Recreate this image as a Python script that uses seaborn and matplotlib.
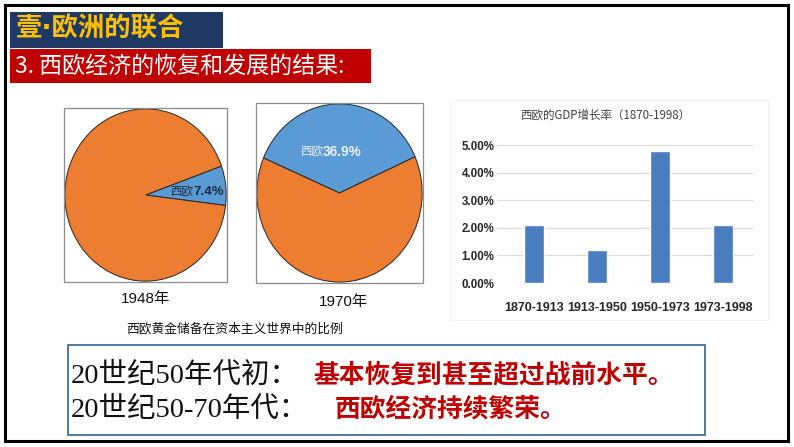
import matplotlib
matplotlib.use("Agg")
import matplotlib.pyplot as plt
import seaborn as sns
import pandas as pd
from matplotlib.patches import Rectangle
from matplotlib.ticker import FuncFormatter

# ---------------- data ----------------
pie_years = ["1948年", "1970年"]
pie_west_share = [7.4, 36.9]          # 西欧 gold reserve share (%)
pie_labels = ["西欧", "西欧"]
pie_caption = "西欧黄金储备在资本主义世界中的比例"

gdp_periods = ["1870-1913", "1913-1950", "1950-1973", "1973-1998"]
gdp_growth = [2.1, 1.2, 4.8, 2.1]     # % per year
gdp_title = "西欧的GDP增长率（1870-1998）"
gdp_yticks = [0, 1, 2, 3, 4, 5]

title_text = "壹·欧洲的联合"
subtitle_text = "3. 西欧经济的恢复和发展的结果:"
line_heads = ["20世纪50年代初：", "20世纪50-70年代："]
line_bodies = ["基本恢复到甚至超过战前水平。", "西欧经济持续繁荣。"]

# ---------------- styling ----------------
sns.set_theme(style="white")
plt.rcParams["font.family"] = ["Noto Sans CJK SC", "DejaVu Sans"]

W, H = 794, 447
fig = plt.figure(figsize=(W / 100, H / 100), dpi=100)
fig.patch.set_facecolor("white")


def fx(x):
    return x / W


def fy(y):
    return 1 - y / H


def add_rect(x0, y0, x1, y1, **kw):
    r = Rectangle((fx(x0), fy(y1)), fx(x1) - fx(x0), fy(y0) - fy(y1),
                  transform=fig.transFigure, **kw)
    fig.add_artist(r)
    return r


def ftext(x, y, s, **kw):
    return fig.text(fx(x), fy(y), s, **kw)


# outer frame
add_rect(5, 5, 788, 441, facecolor="none", edgecolor="black", lw=2.2)

# title banner
add_rect(10, 12, 223, 48, facecolor="#1F3864", edgecolor="none")
ftext(16, 30, title_text, color="#FFC000", fontsize=19, fontweight="bold",
      va="center", ha="left", family=["DejaVu Sans", "Noto Sans CJK SC"])

# red subtitle bar
add_rect(10, 49, 371, 83, facecolor="#C00000", edgecolor="none")
ftext(15, 66, subtitle_text, color="white", fontsize=16.6,
      va="center", ha="left")

# ---------------- pies ----------------
ORANGE = "#ED7D31"
BLUE = "#5B9BD5"
pie_boxes = [(64, 108, 227, 282), (256, 103, 423, 283)]
pie_start = [-7, 24]
for i, (x0, y0, x1, y1) in enumerate(pie_boxes):
    ax = fig.add_axes([fx(x0), fy(y1), fx(x1) - fx(x0), fy(y0) - fy(y1)])
    share = pie_west_share[i]
    ax.pie([share, 100 - share], colors=[BLUE, ORANGE], startangle=pie_start[i],
           counterclock=True, radius=1.0,
           wedgeprops=dict(edgecolor="#262626", linewidth=0.7))
    ax.set_aspect("auto")
    ax.set_xlim(-1.01, 1.01)
    ax.set_ylim(-1.01, 1.01)
    ax.set_xticks([])
    ax.set_yticks([])
    ax.set_frame_on(False)
    # box around each pie
    add_rect(x0, y0, x1, y1, facecolor="none", edgecolor="#8C8C8C", lw=0.9, zorder=5)

# pie labels
ftext(193, 192, pie_labels[0], color="#1F2A44", fontsize=8.3, ha="right", va="center")
ftext(193, 192, f"{pie_west_share[0]}%", color="#1F2A44", fontsize=9.5,
      fontweight="bold", ha="left", va="center",
      family=["Liberation Sans", "Noto Sans CJK SC"])
ftext(323, 152, pie_labels[1], color="#EAF0F8", fontsize=8.3, ha="right", va="center")
ftext(323, 152, f"{pie_west_share[1]}%", color="#EAF0F8", fontsize=9.8,
      fontweight="bold", ha="left", va="center",
      family=["Liberation Sans", "Noto Sans CJK SC"])

ftext(145, 299, pie_years[0], fontsize=11, ha="center", va="center", color="#111111",
      family=["Liberation Sans", "Noto Sans CJK SC"])
ftext(343, 302, pie_years[1], fontsize=11, ha="center", va="center", color="#111111",
      family=["Liberation Sans", "Noto Sans CJK SC"])
ftext(235, 329, pie_caption, fontsize=9.2, ha="center", va="center", color="#111111")

# ---------------- bar chart ----------------
add_rect(450, 100, 768, 320, facecolor="none", edgecolor="#F2F2F2", lw=0.8)
bx0, by0, bx1, by1 = 497, 145, 753, 283
axb = fig.add_axes([fx(bx0), fy(by1), fx(bx1) - fx(bx0), fy(by0) - fy(by1)])
df = pd.DataFrame({"period": gdp_periods, "growth": gdp_growth})
sns.barplot(data=df, x="period", y="growth", color="#4A7CC0", saturation=1,
            width=0.32, ax=axb, zorder=3)
axb.set_xlim(-0.59, 3.48)
axb.set_ylim(0, 5)
axb.set_yticks(gdp_yticks)
axb.yaxis.set_major_formatter(FuncFormatter(lambda v, p: f"{v:.2f}%"))
axb.set_xlabel("")
axb.set_ylabel("")
for sp in axb.spines.values():
    sp.set_visible(False)
axb.grid(axis="y", color="#D9D9D9", linewidth=0.8, zorder=0)
axb.set_axisbelow(True)
axb.tick_params(axis="both", length=0, colors="#262626")
axb.tick_params(axis="y", pad=2)
axb.tick_params(axis="x", pad=14)
tick_font = ["Liberation Sans Narrow", "Liberation Sans", "DejaVu Sans"]
for lab in axb.get_yticklabels():
    lab.set_family(tick_font)
    lab.set_fontweight("bold")
    lab.set_fontsize(8.3)
for lab in axb.get_xticklabels():
    lab.set_family(tick_font)
    lab.set_fontweight("bold")
    lab.set_fontsize(9)
ftext(605, 115, gdp_title, fontsize=8.3, ha="center", va="center", color="#404040")

# ---------------- bottom text box ----------------
add_rect(68, 345, 705, 435, facecolor="none", edgecolor="#41719C", lw=1.3)
serif = ["Liberation Serif", "Noto Sans CJK SC"]
ftext(71, 376, line_heads[0], fontsize=20.5, ha="left", va="center", color="#111111",
      family=serif)
ftext(71, 410, line_heads[1], fontsize=20.5, ha="left", va="center", color="#111111",
      family=serif)
ftext(313, 375, line_bodies[0], fontsize=18.5, ha="left", va="center", color="#C00000",
      fontweight="bold")
ftext(335, 409, line_bodies[1], fontsize=18.5, ha="left", va="center", color="#C00000",
      fontweight="bold")

fig.savefig("out.png", dpi=100)
